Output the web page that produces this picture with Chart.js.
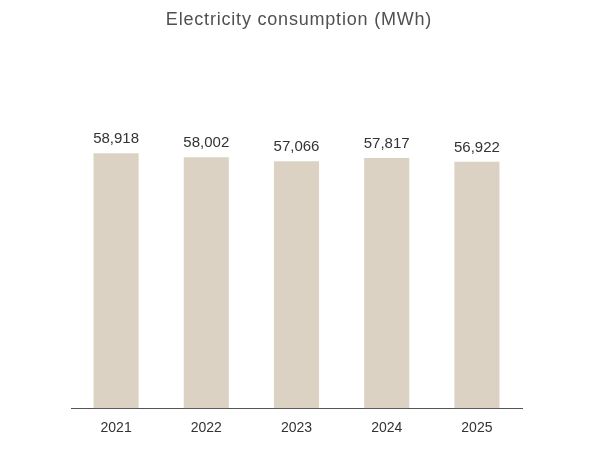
<!DOCTYPE html>
<html>
<head>
<meta charset="utf-8">
<script src="https://cdn.jsdelivr.net/npm/chart.js@4.4.1/dist/chart.umd.min.js"></script>
<style>
  html, body { margin: 0; padding: 0; background: #fff; }
  #wrap { width: 596px; height: 464px; position: relative; }
</style>
</head>
<body>
<div id="wrap"><canvas id="chart"></canvas></div>
<script>
// Chart data
const years = ['2021', '2022', '2023', '2024', '2025'];
const consumption = [58918, 58002, 57066, 57817, 56922];
const chartTitle = 'Electricity consumption (MWh)';

const fontFamily = '"Liberation Sans", "Noto Sans CJK JP", sans-serif';

// Title drawn by hand so the letter spacing can match
const spacedTitle = {
    id: 'spacedTitle',
    afterDraw(chart) {
        const ctx = chart.ctx;
        ctx.save();
        ctx.font = '18px ' + fontFamily;
        ctx.letterSpacing = '0.8px';
        ctx.fillStyle = '#505050';
        ctx.textAlign = 'center';
        ctx.textBaseline = 'middle';
        ctx.fillText(chartTitle, chart.width / 2 + 1, 20);
        ctx.restore();
    }
};

// Draw value labels above each bar
const valueLabels = {
    id: 'valueLabels',
    afterDatasetsDraw(chart) {
        const ctx = chart.ctx;
        const meta = chart.getDatasetMeta(0);
        ctx.save();
        ctx.font = '15px ' + fontFamily;
        ctx.fillStyle = '#333333';
        ctx.textAlign = 'center';
        ctx.textBaseline = 'middle';
        meta.data.forEach((bar, i) => {
            ctx.fillText(consumption[i].toLocaleString('en-US'), bar.x, bar.y - 14);
        });
        ctx.restore();
    }
};

new Chart(document.getElementById('chart'), {
    type: 'bar',
    data: {
        labels: years,
        datasets: [{
            data: consumption,
            backgroundColor: '#dbd2c3',
            categoryPercentage: 1,
            barPercentage: 0.5
        }]
    },
    options: {
        responsive: true,
        maintainAspectRatio: false,
        animation: false,
        layout: {
            padding: { left: 71, right: 74, top: 62, bottom: 15 }
        },
        plugins: {
            legend: { display: false },
            tooltip: { enabled: false },
            title: { display: false }
        },
        scales: {
            x: {
                grid: { display: false, drawTicks: false },
                border: { display: true, color: '#555555', width: 1 },
                ticks: {
                    color: '#333333',
                    padding: 12,
                    font: { family: fontFamily, size: 14 }
                }
            },
            y: {
                display: false,
                min: 0,
                max: 80000
            }
        }
    },
    plugins: [valueLabels, spacedTitle]
});
</script>
</body>
</html>
